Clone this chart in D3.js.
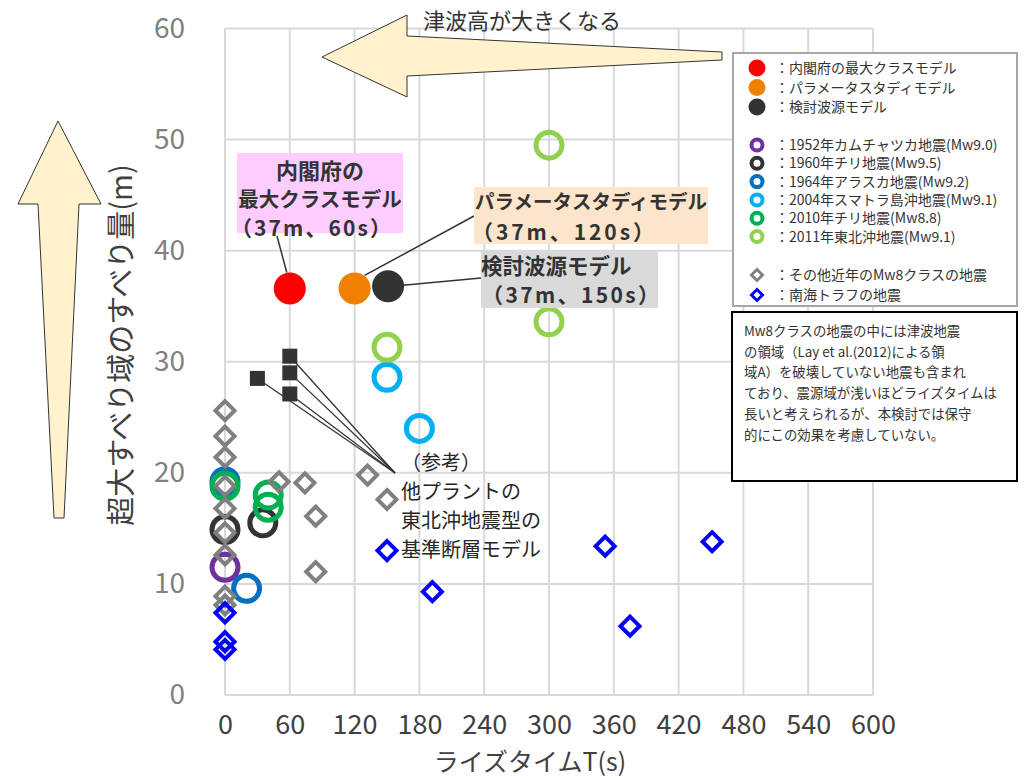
<html>
<script src="https://d3js.org/d3.v7.min.js"></script>
<body style="margin:0"></body>
<script>
const W = 1029, H = 777;
const FONT = "'Noto Sans CJK JP', 'Noto Sans', sans-serif";

// tick labels
const xTicks = [0, 60, 120, 180, 240, 300, 360, 420, 480, 540, 600];
const yTicks = [0, 10, 20, 30, 40, 50, 60];

// series: [rise time (s), slip (m)]
const cabinetModel = [[60, 36.6]];
const paramStudy = [[120, 36.6]];
const studyModel = [[151, 36.8]];
const kamchatka1952 = [[0, 11.5]];
const chile1960 = [[0, 14.9], [35, 15.5]];
const alaska1964 = [[0, 19.2], [20, 9.6]];
const sumatra2004 = [[150, 28.6], [180, 24.0]];
const chile2010 = [[0, 18.8], [40, 18.0], [40, 16.9]];
const tohoku2011 = [[300, 49.5], [300, 33.6], [150, 31.3]];
const otherMw8 = [[0, 25.6], [0, 23.3], [0, 21.4], [0, 18.8], [0, 16.8], [0, 14.6], [0, 12.6], [0, 8.9], [0, 8.1],
  [50, 19.2], [74, 19.1], [84, 16.1], [84, 11.1], [132, 19.8], [150, 17.6]];
const nankai = [[0, 7.4], [0, 4.8], [0, 4.1], [150, 13.0], [192, 9.3], [352, 13.4], [375, 6.2], [451, 13.8]];
const otherPlants = [[30, 28.5], [60, 30.5], [60, 29.0], [60, 27.1]];

const ringSeries = [
  {name: '：1952年カムチャツカ地震(Mw9.0)', color: '#7030A0', data: kamchatka1952},
  {name: '：1960年チリ地震(Mw9.5)', color: '#333333', data: chile1960},
  {name: '：1964年アラスカ地震(Mw9.2)', color: '#0070C0', data: alaska1964},
  {name: '：2004年スマトラ島沖地震(Mw9.1)', color: '#00B0F0', data: sumatra2004},
  {name: '：2010年チリ地震(Mw8.8)', color: '#00B050', data: chile2010},
  {name: '：2011年東北沖地震(Mw9.1)', color: '#92D050', data: tohoku2011}
];
const dotSeries = [
  {name: '：内閣府の最大クラスモデル', color: '#FF0000', data: cabinetModel},
  {name: '：パラメータスタディモデル', color: '#F08000', data: paramStudy},
  {name: '：検討波源モデル', color: '#333333', data: studyModel}
];
const diamondSeries = [
  {name: '：その他近年のMw8クラスの地震', color: '#808080', data: otherMw8},
  {name: '：南海トラフの地震', color: '#0000FF', data: nankai}
];

const noteLines = [
  'Mw8クラスの地震の中には津波地震',
  'の領域（Lay et al.(2012)による領',
  '域A）を破壊していない地震も含まれ',
  'ており、震源域が浅いほどライズタイムは',
  '長いと考えられるが、本検討では保守',
  '的にこの効果を考慮していない。'
];

const x = d3.scaleLinear().domain([0, 600]).range([225, 873]);
const y = d3.scaleLinear().domain([0, 60]).range([695, 28.5]);

const svg = d3.select('body').append('svg')
  .attr('width', W).attr('height', H)
  .style('font-family', FONT)
  .style('background', '#fff');

// grid
svg.append('g')
  .selectAll('line.v').data(xTicks).enter().append('line')
  .attr('x1', d => x(d)).attr('x2', d => x(d))
  .attr('y1', y(60)).attr('y2', y(0))
  .attr('stroke', '#D9D9D9').attr('stroke-width', 2);
svg.append('g')
  .selectAll('line.h').data(yTicks).enter().append('line')
  .attr('x1', x(0)).attr('x2', x(600))
  .attr('y1', d => y(d)).attr('y2', d => y(d))
  .attr('stroke', '#D9D9D9').attr('stroke-width', 2);

// axes labels
svg.append('g')
  .attr('transform', `translate(0,${y(0)})`)
  .call(d3.axisBottom(x).tickValues(xTicks).tickSize(0).tickPadding(20))
  .call(g => g.select('.domain').remove())
  .call(g => g.selectAll('text').attr('font-size', 27).attr('fill', '#404040').style('font-family', FONT));

svg.append('g')
  .attr('transform', `translate(${x(0)},0)`)
  .call(d3.axisLeft(y).tickValues(yTicks).tickSize(0).tickPadding(40))
  .call(g => g.select('.domain').remove())
  .call(g => g.selectAll('text').attr('font-size', 28).attr('fill', '#808080').style('font-family', FONT));

svg.append('text')
  .attr('x', 530).attr('y', 771)
  .attr('text-anchor', 'middle')
  .attr('font-size', 25).attr('fill', '#404040')
  .text('ライズタイムT(s)');

svg.append('text')
  .attr('transform', 'translate(132,345) rotate(-90)')
  .attr('text-anchor', 'middle')
  .attr('font-size', 29).attr('fill', '#404040')
  .text('超大すべり域のすべり量(m)');

// arrows
svg.append('polygon')
  .attr('points', '58,121 18,204 38,204 54,518 64,518 79,204 101,204')
  .attr('fill', '#FFF2CC').attr('stroke', '#333').attr('stroke-width', 1);

const diamond = r => `M0,${-r}L${r},0L0,${r}L${-r},0Z`;

// ring series
ringSeries.forEach(s => {
  svg.append('g').selectAll('circle').data(s.data).enter().append('circle')
    .attr('cx', d => x(d[0])).attr('cy', d => y(d[1]))
    .attr('r', 13)
    .attr('fill', 'none').attr('stroke', s.color).attr('stroke-width', 5);
});

// diamonds
diamondSeries.forEach(s => {
  svg.append('g').selectAll('path').data(s.data).enter().append('path')
    .attr('d', diamond(9.5))
    .attr('transform', d => `translate(${x(d[0])},${y(d[1])})`)
    .attr('fill', 'none').attr('stroke', s.color).attr('stroke-width', 4);
});

// other plants' reference fault models
const refPoint = [395, 473];
svg.append('g').selectAll('line').data(otherPlants).enter().append('line')
  .attr('x1', d => x(d[0])).attr('y1', d => y(d[1]))
  .attr('x2', refPoint[0]).attr('y2', refPoint[1])
  .attr('stroke', '#333').attr('stroke-width', 1.3);
svg.append('g').selectAll('rect').data(otherPlants).enter().append('rect')
  .attr('x', d => x(d[0]) - 7.5).attr('y', d => y(d[1]) - 7.5)
  .attr('width', 15).attr('height', 15)
  .attr('fill', '#333');

svg.append('g').selectAll('text')
  .data(['（参考）', '他プラントの', '東北沖地震型の', '基準断層モデル'])
  .enter().append('text')
  .attr('x', 401).attr('y', (d, i) => 470 + i * 29)
  .attr('font-size', 20).attr('fill', '#262626')
  .text(d => d);

// model dots
dotSeries.forEach(s => {
  svg.append('g').selectAll('circle').data(s.data).enter().append('circle')
    .attr('cx', d => x(d[0])).attr('cy', d => y(d[1]))
    .attr('r', 16).attr('fill', s.color);
});

// callouts
const callout = (box, fill, lines, from, to) => {
  svg.append('line')
    .attr('x1', from[0]).attr('y1', from[1]).attr('x2', to[0]).attr('y2', to[1])
    .attr('stroke', '#333').attr('stroke-width', 1.5);
  svg.append('rect')
    .attr('x', box[0]).attr('y', box[1]).attr('width', box[2]).attr('height', box[3])
    .attr('fill', fill);
  lines.forEach(l => {
    const t = svg.append('text')
      .attr('x', l.x).attr('y', l.y)
      .attr('text-anchor', l.anchor || 'start')
      .attr('font-size', l.size || 20).attr('font-weight', 'bold').attr('fill', '#333')
      .text(l.t);
    if (l.len) t.attr('textLength', l.len).attr('lengthAdjust', 'spacing');
  });
};

const c0 = cabinetModel[0], c1 = paramStudy[0], c2 = studyModel[0];
callout([237, 153, 166, 80], '#FFCCFF',
  [{t: '内閣府の', x: 320, y: 179, anchor: 'middle', size: 22},
   {t: '最大クラスモデル', x: 320, y: 207, anchor: 'middle', size: 20.5},
   {t: '（37m、60s）', x: 231, y: 236, size: 21, len: 160}],
  [277, 236], [x(c0[0]) - 3, y(c0[1]) - 16]);
callout([474, 187, 234, 57], '#FDE5CC',
  [{t: 'パラメータスタディモデル', x: 475, y: 209, size: 19.5},
   {t: '（37m、120s）', x: 472, y: 240, size: 21, len: 182}],
  [x(c1[0]) + 10, y(c1[1]) - 13], [474, 216]);
callout([481, 251, 177, 57], '#D9D9D9',
  [{t: '検討波源モデル', x: 481, y: 274, size: 21.5},
   {t: '（37m、150s）', x: 482, y: 303, size: 21, len: 177}],
  [x(c2[0]) + 15, y(c2[1]) - 1], [481, 278]);

// top arrow
svg.append('polygon')
  .attr('points', '322,57 407,15 407,36 722,52 722,60 407,76 407,97')
  .attr('fill', '#FFF2CC').attr('stroke', '#333').attr('stroke-width', 1);
svg.append('text')
  .attr('x', 423).attr('y', 29)
  .attr('font-size', 22).attr('fill', '#333')
  .text('津波高が大きくなる');

// legend
const lg = svg.append('g').attr('transform', 'translate(733,53)');
lg.append('rect').attr('width', 284).attr('height', 253)
  .attr('fill', '#fff').attr('stroke', '#A6A6A6').attr('stroke-width', 2);
const legendRows = [
  ...dotSeries.map((s, i) => ({s, type: 'dot', y: 15 + i * 19.5})),
  ...ringSeries.map((s, i) => ({s, type: 'ring', y: 92 + i * 18.3})),
  ...diamondSeries.map((s, i) => ({s, type: 'diamond', y: 222 + i * 20}))
];
legendRows.forEach(r => {
  if (r.type === 'dot') {
    lg.append('circle').attr('cx', 24).attr('cy', r.y).attr('r', 8.5).attr('fill', r.s.color);
  } else if (r.type === 'ring') {
    lg.append('circle').attr('cx', 24).attr('cy', r.y).attr('r', 5.5)
      .attr('fill', 'none').attr('stroke', r.s.color).attr('stroke-width', 4);
  } else {
    lg.append('path').attr('d', diamond(5.5)).attr('transform', `translate(24,${r.y})`)
      .attr('fill', 'none').attr('stroke', r.s.color).attr('stroke-width', 3);
  }
  lg.append('text').attr('x', 42).attr('y', r.y + 5)
    .attr('font-size', 14).attr('fill', '#333').text(r.s.name);
});

// note box
const nb = svg.append('g').attr('transform', 'translate(732,312)');
nb.append('rect').attr('width', 285).attr('height', 169)
  .attr('fill', '#fff').attr('stroke', '#000').attr('stroke-width', 2);
nb.selectAll('text').data(noteLines).enter().append('text')
  .attr('x', 12).attr('y', (d, i) => 24 + i * 20.7)
  .attr('font-size', 13.4).attr('fill', '#333')
  .text(d => d);
</script>
</html>
